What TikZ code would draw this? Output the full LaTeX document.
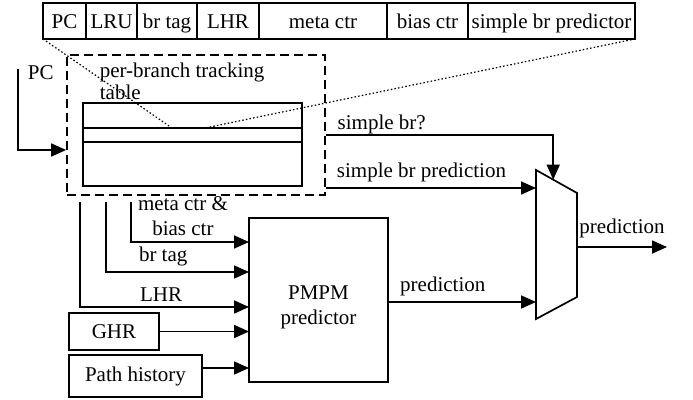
\documentclass[tikz,border=0pt]{standalone}
\usepackage{fontspec}
\setmainfont{Liberation Serif}
\usetikzlibrary{arrows.meta,calc,positioning}

\begin{document}
\begin{tikzpicture}[
  x=1pt, y=-1pt,
  font=\fontsize{21}{25}\selectfont,
  line width=1.7pt,
  field/.style={draw, minimum height=36pt, inner sep=0pt, outer sep=0pt,
                text height=19pt, text depth=5pt},
  block/.style={draw, inner sep=0pt, outer sep=0pt, align=center},
  wire/.style={-{Triangle[length=15pt,width=13pt]}},
  zoomline/.style={line width=1.2pt, dash pattern=on 1.5pt off 2.2pt},
  sig/.style={inner sep=5pt}
]
  \useasboundingbox (0,0) rectangle (693,399);

  % Entry layout of the tracking table.
  \node[field, minimum width=43pt] (f-pc) at (64.5,21) {PC};
  \node[field, minimum width=51pt, right=0pt of f-pc] (f-lru) {LRU};
  \node[field, minimum width=60pt, right=0pt of f-lru] (f-tag) {br tag};
  \node[field, minimum width=62pt, right=0pt of f-tag] (f-lhr) {LHR};
  \node[field, minimum width=128pt, right=0pt of f-lhr] (f-meta) {meta ctr};
  \node[field, minimum width=81pt, right=0pt of f-meta] (f-bias) {bias ctr};
  \node[field, minimum width=167pt, right=0pt of f-bias] (f-simple) {simple br predictor};

  % Per-branch tracking table.
  \node[draw, dash pattern=on 9pt off 5pt, minimum width=258pt,
        minimum height=140pt, inner sep=0pt] (tracker) at (196,125) {};
  \node[anchor=north west, align=left, inner sep=0pt] (tracker-title) at (99,62)
    {per-branch tracking\\[-3pt]table};
  \node[draw, minimum width=219pt, minimum height=83pt, inner sep=0pt] (ptt) at (192.5,144.5) {};
  \coordinate (row-l) at (172,128);
  \coordinate (row-r) at (205,128);
  \coordinate (row-2) at (0,142);
  \draw (ptt.west |- row-l) -- (ptt.east |- row-l);
  \draw (ptt.west |- row-2) -- (ptt.east |- row-2);
  \draw[zoomline] (f-pc.south west) -- (row-l);
  \draw[zoomline] (f-simple.south east) -- (row-r);

  % PC input.
  \node[inner sep=0pt, anchor=base west] (pc-label) at (27,79) {PC};
  \coordinate (pc-in) at (18,69);
  \draw[wire] (pc-in) |- ([yshift=-25pt]tracker.west);

  % Predictor and history inputs.
  \node[block, minimum width=139pt, minimum height=164pt] (pmpm) at (318.5,300) {};
  \node[align=center, inner sep=0pt] (pmpm-text) at (318.5,307) {PMPM\\predictor};
  \node[block, minimum width=90pt, minimum height=37pt] (ghr) at (114,331.5) {GHR};
  \node[block, minimum width=133pt, minimum height=42pt] (hist) at (135.5,376) {Path history};
  \coordinate (hist-out) at ([yshift=8pt]hist.east);
  \draw[wire] (ghr.east) -- (pmpm.west |- ghr.east);
  \draw[wire] (hist-out) -- (pmpm.west |- hist-out);

  \coordinate (meta-out) at (131,202);
  \coordinate (tag-out) at (106,202);
  \coordinate (lhr-out) at (80,202);
  \draw[wire] (meta-out) |- node[sig, above, pos=0.72, align=center]
    {meta ctr \&\\bias ctr} ([yshift=58pt]pmpm.west);
  \draw[wire] (tag-out) |- node[sig, above, pos=0.7] {br tag} ([yshift=28pt]pmpm.west);
  \draw[wire] (lhr-out) |- node[sig, above, pos=0.74] {LHR} ([yshift=-7pt]pmpm.west);

  % Final selection mux.
  \coordinate (mux-a) at (536,170);
  \coordinate (mux-b) at (577,193);
  \coordinate (mux-c) at (577,297);
  \coordinate (mux-d) at (536,319);
  \draw[line join=miter] (mux-a) -- (mux-b) -- (mux-c) -- (mux-d) -- cycle;
  \coordinate (mux-sel) at ($(mux-a)!0.42!(mux-b)$);
  \coordinate (mux-in1) at (536,188);
  \coordinate (mux-in2) at (536,302);
  \coordinate (mux-out) at ($(mux-b)!0.52!(mux-c)$);
  \coordinate (pred-end) at (667,247);

  \draw[wire] ([yshift=-10pt]tracker.east) -|
    node[anchor=south west, inner sep=0pt, pos=0, xshift=11pt] {simple br?} (mux-sel);
  \draw[wire] ([yshift=-63pt]tracker.east) --
    node[sig, above, pos=0.455] {simple br prediction} (mux-in1);
  \draw[wire] ([yshift=-2pt]pmpm.east) -- node[sig, above, pos=0.37] {prediction} (mux-in2);
  \draw[wire] (mux-out) -- node[sig, above, yshift=3pt] {prediction} (pred-end);
\end{tikzpicture}
\end{document}
